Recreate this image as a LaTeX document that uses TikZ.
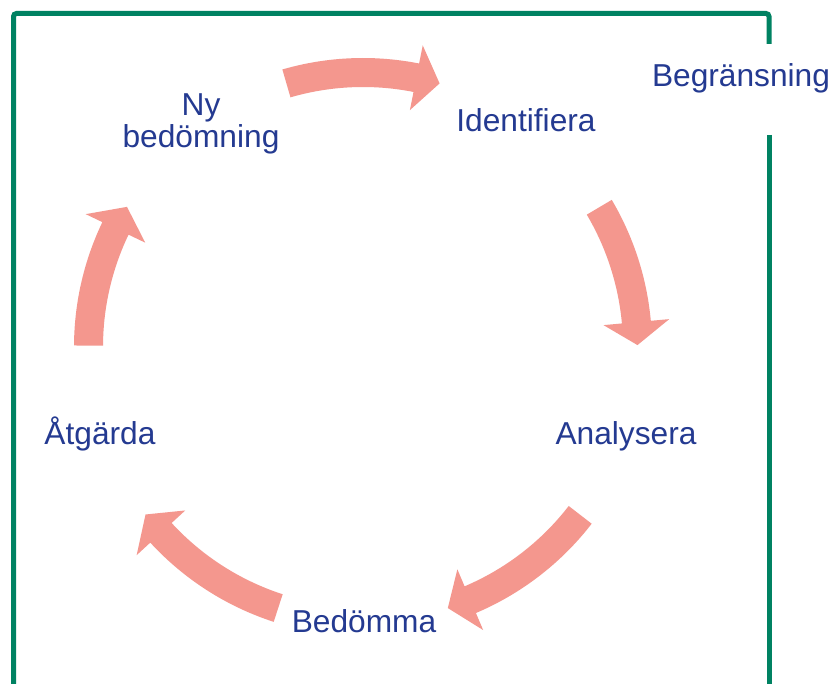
\documentclass[tikz,border=0pt]{standalone}
\usepackage{fontspec}
\setmainfont{Liberation Sans}
\definecolor{framegreen}{RGB}{0,130,98}
\definecolor{arrowpink}{RGB}{244,151,142}
\definecolor{labelblue}{RGB}{36,58,145}
\newcommand\cyclearrow[3]{%
  \fill[arrowbody] plot[domain=#1:#2,samples=40] (\x:289)
    -- (#2:307.5) -- (#3:274.5) -- (#2:241.5) -- (#2:260)
    -- plot[domain=#2:#1,samples=40] (\x:260) -- cycle;}
\begin{document}
\begin{tikzpicture}[x=1pt,y=-1pt,
  frame/.style={draw=framegreen,line width=5pt,rounded corners=3pt},
  arrowbody/.style={fill=arrowpink},
  label/.style={text=labelblue,font=\fontsize{31.7}{32}\selectfont,inner sep=0pt,anchor=base}]
\useasboundingbox (0,0) rectangle (833,684);
\fill[white] (0,0) rectangle (833,684);
% frame
\coordinate (fbl) at (13.5,684);
\coordinate (ftl) at (13.5,13.5);
\coordinate (ftr) at (769,13.5);
\coordinate (fgap1) at (769,44);
\coordinate (fgap2) at (769,135);
\coordinate (fbr) at (769,684);
\draw[frame] (fbl) -- (ftl) -- (ftr) -- (fgap1);
\draw[frame] (fgap2) -- (fbr);
% labels
\node[label] (ny) at (201,116) {Ny};
\node[label] (nybed) at (201,147.5) {bedömning};
\node[label] (ident) at (526,132) {Identifiera};
\node[label] (anal) at (626,444.5) {Analysera};
\node[label] (bedom) at (364,632) {Bedömma};
\node[label] (atg) at (100,444.5) {Åtgärda};
\node[label] (begr) at (741,86.5) {Begränsning};
% cycle arrows
\coordinate (c) at (363,347);
\begin{scope}[shift={(c)}]
  \cyclearrow{-106.2}{-78.8}{-73.8}
  \cyclearrow{-30.6}{-5.2}{-0.4}
  \cyclearrow{37.7}{67}{72}
  \cyclearrow{108}{137.4}{142.4}
  \cyclearrow{180.3}{205.6}{210.7}
\end{scope}
\end{tikzpicture}
\end{document}
